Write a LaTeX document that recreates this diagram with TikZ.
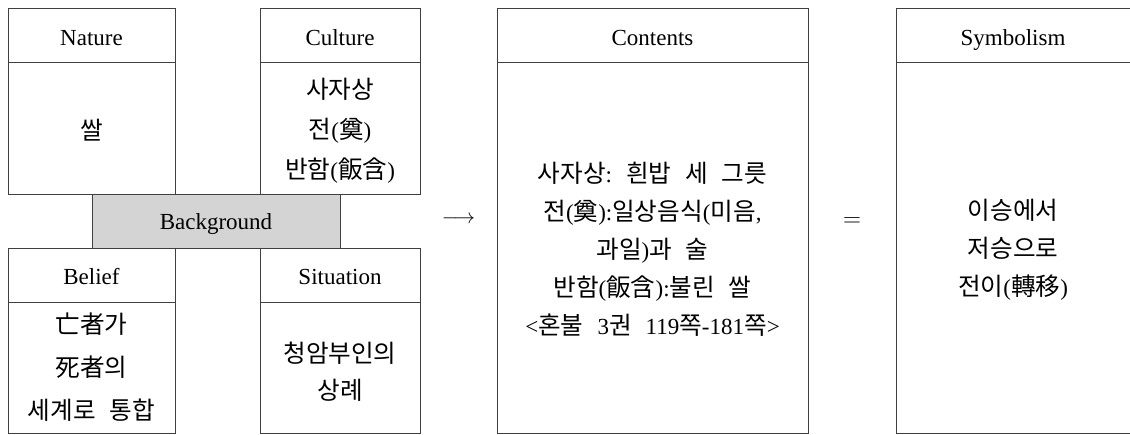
\documentclass[tikz,border=0pt]{standalone}
\usepackage{fontspec}
\setmainfont{Liberation Serif}
\newfontfamily\kr[Scale=1.07]{Noto Sans CJK KR}
\newcommand\K[1]{{\kr #1}}
\newcommand\ksp{\hspace{14pt}}
\begin{document}
\begin{tikzpicture}[x=1pt,y=-1pt,
  box/.style={draw=black!75, line width=1pt, inner sep=0pt, outer sep=0pt, anchor=north west},
  hline/.style={draw=black!75, line width=1pt},
  lbl/.style={font=\fontsize{23}{27}\selectfont, inner sep=0pt, anchor=base},
  body/.style={font=\fontsize{23}{38}\selectfont, align=center, inner sep=0pt},
  bg/.style={box, fill=black!17}]
\useasboundingbox (0,0) rectangle (1130,434);
% boxes
\node[box, minimum width=167pt, minimum height=186pt] (nature) at (8,8) {};
\node[box, minimum width=160pt, minimum height=186pt] (culture) at (260,8) {};
\node[box, minimum width=167pt, minimum height=185pt] (belief) at (8,248) {};
\node[box, minimum width=160pt, minimum height=185pt] (situation) at (260,248) {};
\node[bg, minimum width=248pt, minimum height=54pt] (background) at (92,194) {};
\node[box, minimum width=311pt, minimum height=425pt] (contents) at (497,8) {};
\node[box, minimum width=240pt, minimum height=425pt] (symbolism) at (896,8) {};
% header lines
\foreach \b in {nature,culture,belief,situation,contents,symbolism}
  \draw[hline] ([yshift=-54.5pt]\b.north west) -- ([yshift=-54.5pt]\b.north east);
% headers
\node[lbl] (natureH) at (91.5,45) {Nature};
\node[lbl] (cultureH) at (340,45) {Culture};
\node[lbl] (beliefH) at (91.5,284) {Belief};
\node[lbl] (situationH) at (340,284) {Situation};
\node[lbl] (backgroundH) at (216,229) {Background};
\node[lbl] (contentsH) at (652.5,45) {Contents};
\node[lbl] (symbolismH) at (1013,45) {Symbolism};
% bodies
\node[body] (natureB) at (91.5,130) {\K{쌀}};
\node[body, font=\fontsize{23}{40}\selectfont] (cultureB) at (340,131) {\K{사자상}\\\K{전}(\K{奠})\\\K{반함}(\K{飯含})};
\node[body, font=\fontsize{23}{43}\selectfont] (beliefB) at (91.5,367) {\K{亡者가}\\\K{死者의}\\\K{세계로}\ksp\K{통합}};
\node[body, font=\fontsize{23}{37}\selectfont] (situationB) at (340,372) {\K{청암부인의}\\\K{상례}};
\node[body] (contentsB) at (652.5,249) {\K{사자상}:\ksp\K{흰밥}\ksp\K{세}\ksp\K{그릇}\\\K{전}(\K{奠}):\K{일상음식}(\K{미음},\\\K{과일})\K{과}\ksp\K{술}\\\K{반함}(\K{飯含}):\K{불린}\ksp\K{쌀}\\<\K{혼불}\ksp3\K{권}\ksp119\K{쪽}-181\K{쪽}>};
\node[body] (symbolismB) at (1013,250) {\K{이승에서}\\\K{저승으로}\\\K{전이}(\K{轉移})};
% operators
\node[inner sep=0pt, font=\fontsize{20}{24}\selectfont] (arrow) at (458.5,220) {$\longrightarrow$};
\node[inner sep=0pt, font=\fontsize{30}{34}\selectfont] (equal) at (852,222) {$=$};
\end{tikzpicture}
\end{document}
